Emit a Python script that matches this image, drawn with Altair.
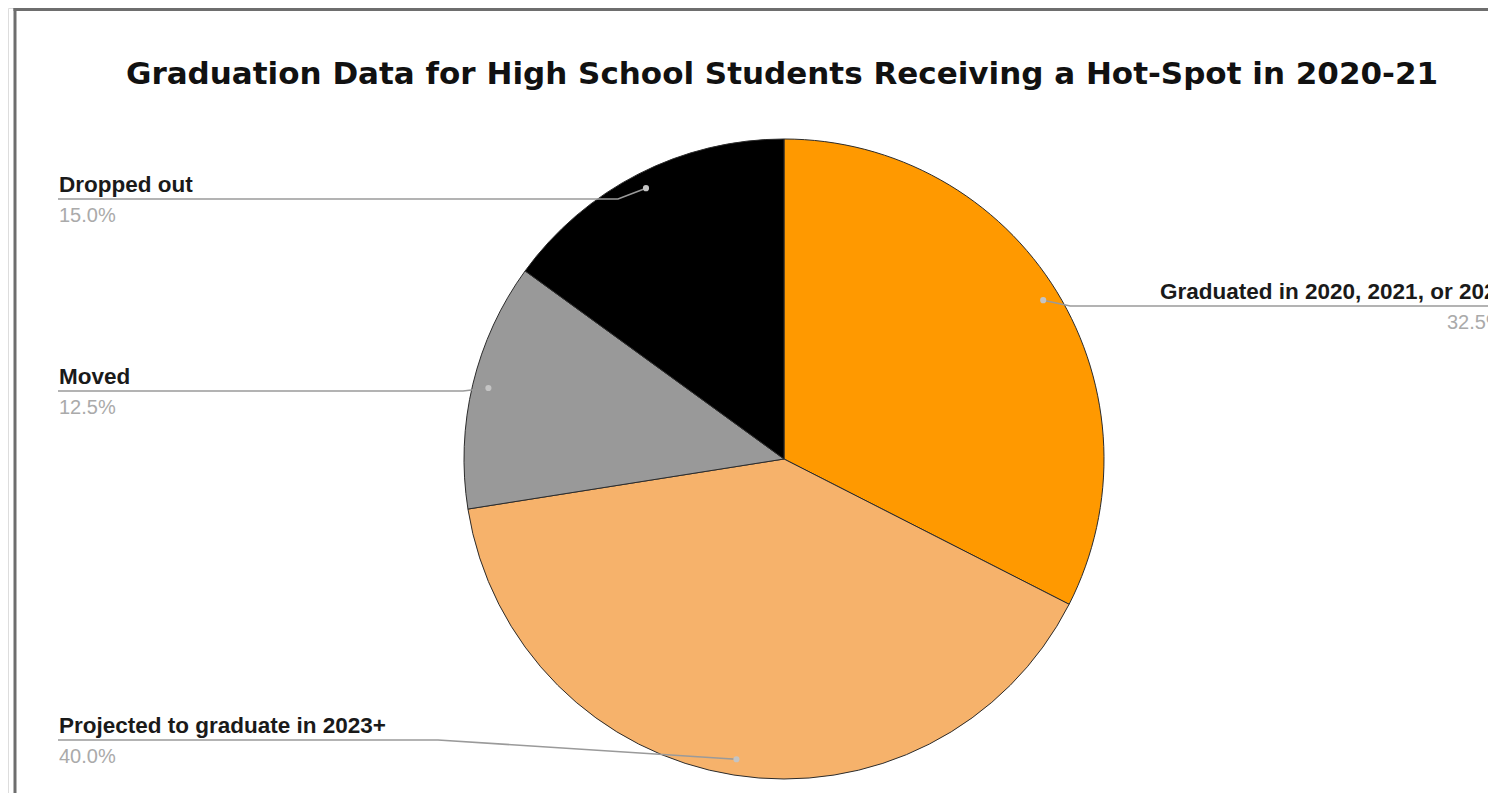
import math
import altair as alt
import pandas as pd

# ---- data ----
categories = ["Graduated in 2020, 2021, or 2022", "Projected to graduate in 2023+", "Moved", "Dropped out"]
shares = [32.5, 40.0, 12.5, 15.0]
colors = ["#ff9900", "#f6b26b", "#999999", "#000000"]
title_text = "Graduation Data for High School Students Receiving a Hot-Spot in 2020-21"

# ---- layout (chart pixel coordinates) ----
W, H = 1480, 785
CX, CY, R = 776, 451, 320
DOT_F = 0.95
FONT = "Liberation Sans"

label_layout = {
    "Graduated in 2020, 2021, or 2022": dict(tx=1152, ly=298, px=1439, far=1520, side="right"),
    "Projected to graduate in 2023+": dict(tx=51, ly=732, px=51, far=50, side="left", bend=430),
    "Moved": dict(tx=51, ly=383, px=51, far=50, side="left", bend=455),
    "Dropped out": dict(tx=51, ly=191, px=51, far=50, side="left", bend=610),
}

total = sum(shares)
pie_df = pd.DataFrame({"cat": categories, "share": shares, "idx": list(range(len(categories)))})

cum = 0.0
dots, lines, labels = [], [], []
for cat, v in zip(categories, shares):
    mid = (cum + v / 2) / total
    cum += v
    ang = 2 * math.pi * mid
    dx = CX + DOT_F * R * math.sin(ang)
    dy = CY - DOT_F * R * math.cos(ang)
    dots.append({"cat": cat, "x": dx, "y": dy})
    L = label_layout[cat]
    if L["side"] == "left":
        pts = [(L["far"], L["ly"]), (L["bend"], L["ly"]), (dx, dy)]
    else:
        pts = [(dx, dy), (dx + 27, L["ly"]), (L["far"], L["ly"])]
    for i, (x, y) in enumerate(pts):
        lines.append({"cat": cat, "o": i, "x": x, "y": y})
    labels.append({"cat": cat, "x": L["tx"], "y": L["ly"] - 7, "px": L["px"], "py": L["ly"] + 23,
                   "pct": f"{v:.1f}%"})

dots_df = pd.DataFrame(dots)
lines_df = pd.DataFrame(lines)
labels_df = pd.DataFrame(labels)

pie = alt.Chart(pie_df).mark_arc(radius=R, stroke="#2b2b2b", strokeWidth=1).encode(
    theta=alt.Theta("share:Q", stack=True),
    order=alt.Order("idx:Q"),
    color=alt.Color("cat:N", scale=alt.Scale(domain=categories, range=colors), legend=None),
    x=alt.value(CX),
    y=alt.value(CY),
)

leader = alt.Chart(lines_df).mark_line(color="#9a9a9a", strokeWidth=1.6).encode(
    x=alt.X("x:Q", scale=None),
    y=alt.Y("y:Q", scale=None),
    detail="cat:N",
    order="o:Q",
)

dot = alt.Chart(dots_df).mark_circle(color="#c4c4c4", size=38, opacity=1).encode(
    x=alt.X("x:Q", scale=None),
    y=alt.Y("y:Q", scale=None),
)

name_text = alt.Chart(labels_df).mark_text(
    align="left", baseline="alphabetic", font=FONT, fontSize=22.5, fontWeight="bold", color="#1a1a1a"
).encode(
    x=alt.X("x:Q", scale=None),
    y=alt.Y("y:Q", scale=None),
    text="cat:N",
)

pct_text = alt.Chart(labels_df).mark_text(
    align="left", baseline="alphabetic", font=FONT, fontSize=20, color="#aaaaaa"
).encode(
    x=alt.X("px:Q", scale=None),
    y=alt.Y("py:Q", scale=None),
    text="pct:N",
)

title = alt.Chart(pd.DataFrame({"t": [title_text]})).mark_text(
    align="center", baseline="alphabetic", font="DejaVu Sans", fontSize=31, fontWeight="bold", color="#111111"
).encode(
    x=alt.value(CX - 2),
    y=alt.value(76),
    text="t:N",
)

frame_top = alt.Chart(pd.DataFrame({"a": [0]})).mark_rule(color="#6e6e6e", strokeWidth=3).encode(
    x=alt.value(5.5), x2=alt.value(W), y=alt.value(1.5)
)
frame_left = alt.Chart(pd.DataFrame({"a": [0]})).mark_rule(color="#6e6e6e", strokeWidth=3).encode(
    x=alt.value(7), y=alt.value(0), y2=alt.value(H)
)

chart = alt.layer(pie, leader, dot, name_text, pct_text, title, frame_top, frame_left).properties(
    width=W, height=H, padding=0, autosize=alt.AutoSizeParams(type="none")
).configure_view(stroke=None).configure(background="white")

chart.save("out.html", embed_options={"renderer": "svg", "actions": False})
